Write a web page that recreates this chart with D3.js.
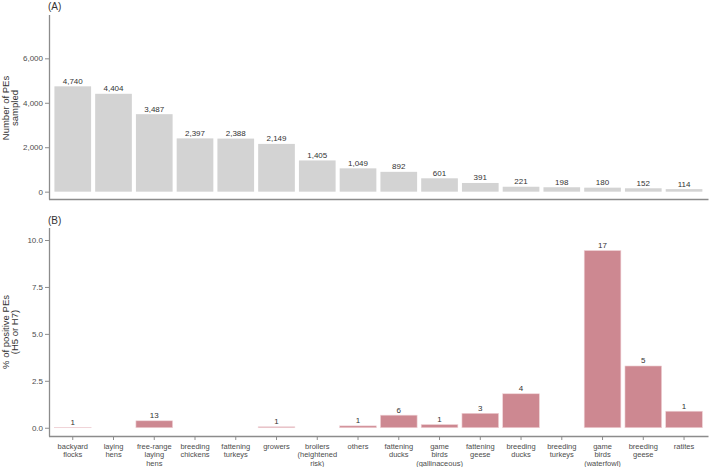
<!DOCTYPE html>
<html><head><meta charset="utf-8">
<script src="https://cdn.jsdelivr.net/npm/d3@7"></script>
<style>
body{margin:0;background:#fff;}
text{font-family:"Liberation Sans",Arial,sans-serif;}
</style></head>
<body><svg id="c" width="709" height="467"></svg>
<script>
const categories = ["backyard\nflocks","laying\nhens","free-range\nlaying\nhens","breeding\nchickens","fattening\nturkeys","growers","broilers\n(heightened\nrisk)","others","fattening\nducks","game\nbirds\n(gallinaceous)","fattening\ngeese","breeding\nducks","breeding\nturkeys","game\nbirds\n(waterfowl)","breeding\ngeese","ratites"];
const sampled = [4740,4404,3487,2397,2388,2149,1405,1049,892,601,391,221,198,180,152,114];
const positives = [1,0,13,0,0,1,0,1,6,1,3,4,0,17,5,1];
const pctPositive = [0.02,0,0.37,0,0,0.05,0,0.10,0.67,0.17,0.77,1.81,0,9.44,3.29,0.88];
const ticksA = [0,2000,4000,6000];
const ticksB = [0,2.5,5,7.5,10];

const svg = d3.select("#c");
const x = d3.scaleBand().domain(d3.range(categories.length)).range([48.3,708.5]).paddingInner(0.1).paddingOuter(0.15);
const yA = d3.scaleLinear().domain([-330,7950]).range([199,15]);
const yB = d3.scaleLinear().domain([-0.44,10.64]).range([436,228]);
const fmt = d3.format(",");
const axisCol = "#8c8c8c", txtCol = "#4d4d4d";
const FF = "Liberation Sans, Arial, sans-serif";

// Panel A
svg.append("g").selectAll("rect").data(sampled).join("rect")
  .attr("x",(d,i)=>x(i)).attr("width",x.bandwidth())
  .attr("y",d=>yA(d)).attr("height",d=>yA(0)-yA(d))
  .attr("fill","#d3d3d3");
svg.append("g").selectAll("text").data(sampled).join("text")
  .attr("x",(d,i)=>x(i)+x.bandwidth()/2).attr("y",d=>yA(d)-2.5)
  .attr("text-anchor","middle").attr("font-size",8).attr("fill","#333")
  .text(d=>fmt(d));
const gA = svg.append("g").attr("transform","translate(49,0)")
  .call(d3.axisLeft(yA).tickValues(ticksA).tickFormat(fmt).tickSize(4).tickPadding(2));
gA.select(".domain").attr("stroke",axisCol).attr("stroke-width",1.3).attr("d","M0.5,15V199.5");
gA.selectAll(".tick line").attr("stroke",axisCol);
gA.selectAll(".tick text").attr("fill",txtCol).attr("font-size",8).attr("font-family",FF);
svg.append("line").attr("x1",49).attr("x2",708.5).attr("y1",199.5).attr("y2",199.5).attr("stroke",axisCol).attr("stroke-width",1.3);
svg.append("text").attr("x",48).attr("y",10).attr("font-size",10).attr("fill","#333").text("(A)");
const tA = svg.append("text").attr("transform","translate(0,108) rotate(-90)").attr("text-anchor","middle").attr("font-size",9.5).attr("fill","#333");
tA.append("tspan").attr("x",0).attr("y",8.5).text("Number of PEs");
tA.append("tspan").attr("x",0).attr("y",17.5).text("sampled");

// Panel B
svg.append("g").selectAll("rect").data(pctPositive).join("rect")
  .attr("x",(d,i)=>x(i)).attr("width",x.bandwidth())
  .attr("y",d=>yB(d)).attr("height",d=>Math.max(0,yB(0)-yB(d)))
  .attr("fill","#cd8891").attr("stroke",d=>d>0?"#f0d4d8":"none").attr("stroke-width",0.6);
svg.append("g").selectAll("text").data(positives.map((p,i)=>({p,i})).filter(d=>d.p>0)).join("text")
  .attr("x",d=>x(d.i)+x.bandwidth()/2).attr("y",d=>yB(pctPositive[d.i])-2.5)
  .attr("text-anchor","middle").attr("font-size",8).attr("fill","#333")
  .text(d=>d.p);
const gB = svg.append("g").attr("transform","translate(49,0)")
  .call(d3.axisLeft(yB).tickValues(ticksB).tickFormat(d3.format(".1f")).tickSize(4).tickPadding(2));
gB.select(".domain").attr("stroke",axisCol).attr("stroke-width",1.3).attr("d","M0.5,228V436.5");
gB.selectAll(".tick line").attr("stroke",axisCol);
gB.selectAll(".tick text").attr("fill",txtCol).attr("font-size",8).attr("font-family",FF);
const gX = svg.append("g").attr("transform","translate(0,436)")
  .call(d3.axisBottom(x).tickSize(4).tickFormat(""));
gX.select(".domain").attr("stroke",axisCol).attr("stroke-width",1.3).attr("d","M49,0.5H708.5");
gX.selectAll(".tick line").attr("stroke",axisCol);
gX.selectAll(".tick").each(function(d){
  const t = d3.select(this).append("text").attr("text-anchor","middle").attr("font-size",7.5).attr("fill",txtCol).attr("font-family",FF);
  categories[d].split("\n").forEach((s,k)=>t.append("tspan").attr("x",0).attr("y",13+k*8.3).text(s));
});
svg.append("text").attr("x",48).attr("y",224).attr("font-size",10).attr("fill","#333").text("(B)");
const tB = svg.append("text").attr("transform","translate(0,332) rotate(-90)").attr("text-anchor","middle").attr("font-size",9.5).attr("fill","#333");
tB.append("tspan").attr("x",0).attr("y",8.5).text("% of positive PEs");
tB.append("tspan").attr("x",0).attr("y",17.5).text("(H5 or H7)");
</script></body></html>
